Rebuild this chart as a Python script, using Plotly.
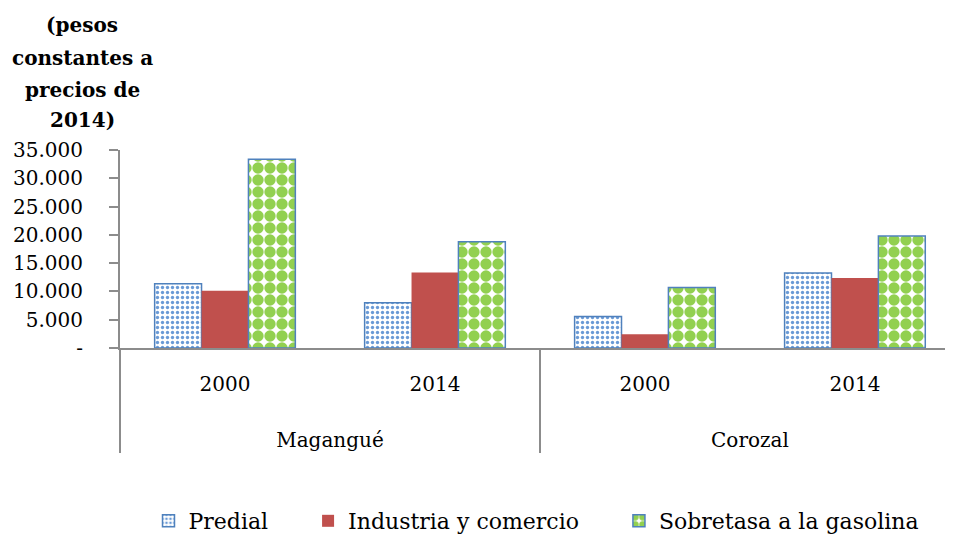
import plotly.graph_objects as go

municipios = ["Magangué", "Magangué", "Corozal", "Corozal"]
anios = ["2000", "2014", "2000", "2014"]
predial = [11340, 8000, 5570, 13250]
industria = [10140, 13360, 2410, 12360]
sobretasa = [33360, 18790, 10680, 19790]
y_ticks = [0, 5000, 10000, 15000, 20000, 25000, 30000, 35000]
y_ticktext = ["-", "5.000", "10.000", "15.000", "20.000", "25.000", "30.000", "35.000"]
titulo_y = ["(pesos", "constantes a", "precios de", "2014)"]
series_names = ["Predial", "Industria y comercio", "Sobretasa a la gasolina"]

FONT = "DejaVu Serif"
NB = "\u00a0"
anio_lbl = [a + "<br><span style='font-size:2px'>" + NB + "</span>" for a in anios]
mun_lbl = ["<br>" + m for m in municipios]
x = [mun_lbl, anio_lbl]

fig = go.Figure()
fig.add_trace(go.Bar(
    x=x, y=predial, name=series_names[0] + NB * 5,
    marker=dict(color="white", line=dict(color="#4F81BD", width=1.5),
                pattern=dict(shape=".", fgcolor="#6A9AD6", bgcolor="white",
                             size=5, solidity=0.35, fillmode="replace")),
))
fig.add_trace(go.Bar(
    x=x, y=industria, name=series_names[1] + NB * 5,
    marker=dict(color="#C0504D", line=dict(color="#C0504D", width=0)),
))
fig.add_trace(go.Bar(
    x=x, y=sobretasa, name=series_names[2],
    marker=dict(color="white", line=dict(color="#4F81BD", width=1.5),
                pattern=dict(shape=".", fgcolor="#92D050", bgcolor="white",
                             size=12, solidity=0.7, fillmode="replace")),
))

annots = []
shifts = [125, 92, 60, 30]
for line, s in zip(titulo_y, shifts):
    annots.append(dict(text="<b>" + line + "</b>", xref="paper", yref="paper",
                       x=-0.0456, y=1.0, xanchor="center", yanchor="middle",
                       yshift=s, showarrow=False,
                       font=dict(family=FONT, size=20, color="black")))

fig.update_layout(
    width=945, height=526,
    margin=dict(l=112, r=0, t=142, b=186),
    paper_bgcolor="white", plot_bgcolor="white",
    barmode="group", bargap=0.33, bargroupgap=0,
    font=dict(family=FONT, size=20, color="black"),
    showlegend=True,
    legend=dict(orientation="h", x=0.5, xanchor="center",
                yref="container", y=0.0247, yanchor="middle",
                font=dict(family=FONT, size=22), itemwidth=30, tracegroupgap=0),
    xaxis=dict(type="multicategory", range=[-0.5, 3.467], automargin=False,
               showline=True, linecolor="#8C8C8C", linewidth=2,
               showdividers=True, dividercolor="#8C8C8C", dividerwidth=2,
               ticks="", ticklabelstandoff=17,
               tickfont=dict(family=FONT, size=20, color="black"),
               showgrid=False, zeroline=False),
    yaxis=dict(range=[0, 35000], tickvals=y_ticks, ticktext=y_ticktext, automargin=False,
               showline=True, linecolor="#8C8C8C", linewidth=2,
               ticks="outside", ticklen=9, tickcolor="#8C8C8C", tickwidth=1.5,
               ticklabelstandoff=22,
               showgrid=False, zeroline=False,
               tickfont=dict(family=FONT, size=20, color="black")),
    annotations=annots,
)

fig.write_html("out.html")
